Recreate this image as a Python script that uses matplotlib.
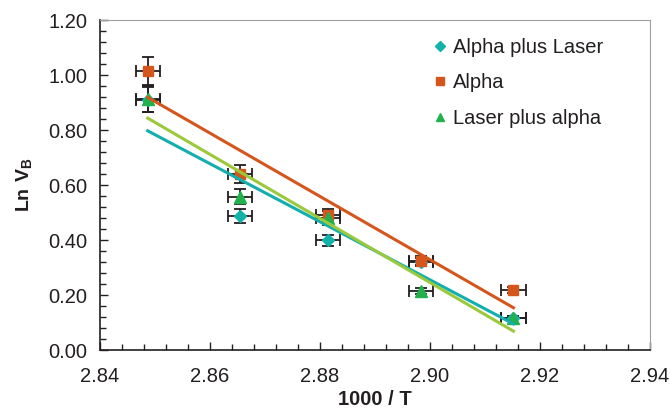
import numpy as np
import matplotlib.pyplot as plt

plt.rcParams['font.family'] = ['Liberation Sans', 'DejaVu Sans']
plt.rcParams['mathtext.fontset'] = 'custom'
plt.rcParams['mathtext.rm'] = 'Liberation Sans'
plt.rcParams['mathtext.bf'] = 'Liberation Sans:bold'

# 1000/T values for each series
x = [2.8487, 2.8655, 2.8815, 2.8984, 2.9152]

y_alpha_laser = [0.91, 0.487, 0.40, 0.32, 0.118]
y_alpha = [1.015, 0.64, 0.49, 0.324, 0.218]
y_laser_alpha = [0.913, 0.558, 0.48, 0.216, 0.118]

names = ['Alpha plus Laser', 'Alpha', 'Laser plus alpha']
marker_cols = ['#12b2aa', '#d5561d', '#22b14c']
line_cols = ['#13aeae', '#d5561d', '#9bc93b']
markers = ['D', 's', '^']
msizes = [6.5, 7.5, 8]

x_err = 0.0022
rel_yerr = 0.05

fig = plt.figure(figsize=(6.7, 4.13), dpi=100)
ax = fig.add_axes([0.149, 0.1525, 0.821, 0.799])

xs = np.array(x)
for ys, name, mc, lc, mk, ms in zip([y_alpha_laser, y_alpha, y_laser_alpha],
                                    names, marker_cols, line_cols, markers, msizes):
    ys = np.array(ys)
    ax.errorbar(xs, ys, xerr=x_err, yerr=ys * rel_yerr, fmt='none',
                ecolor='#231f20', elinewidth=1.3, capsize=4, capthick=1.3, zorder=2)
    ax.plot(xs, ys, linestyle='none', marker=mk, color=mc, markersize=ms,
            label=name, zorder=3)
    k, b = np.polyfit(xs, ys, 1)
    ax.plot(xs[[0, -1]], k * xs[[0, -1]] + b, color=lc, linewidth=2.2, zorder=4)

ax.set_xlim(2.84, 2.94)
ax.set_ylim(0, 1.2)
ax.set_xticks(np.arange(2.84, 2.9401, 0.02))
ax.set_xticks(np.arange(2.84, 2.9401, 0.004), minor=True)
ax.set_yticks(np.arange(0, 1.2001, 0.2))
ax.set_yticks(np.arange(0, 1.2001, 0.04), minor=True)
ax.xaxis.set_major_formatter(plt.FormatStrFormatter('%.2f'))
ax.yaxis.set_major_formatter(plt.FormatStrFormatter('%.2f'))
ax.tick_params(which='both', direction='in', labelsize=14.5, color='#231f20',
               labelcolor='#231f20')
ax.tick_params(axis='x', pad=12)
ax.tick_params(axis='y', pad=9)
ax.tick_params(which='major', length=6, width=1)
ax.tick_params(which='minor', length=4, width=1)

for s in ['top', 'right']:
    ax.spines[s].set_color('#a0a0a0')
for s in ['left', 'bottom']:
    ax.spines[s].set_color('#231f20')
    ax.spines[s].set_linewidth(1.2)

ax.set_xlabel('1000 / T', fontsize=14.5, fontweight='bold', color='#231f20', labelpad=3)
ax.set_ylabel(r'$\mathbf{Ln\ V_B}$', fontsize=14, color='#231f20', labelpad=10)

leg = ax.legend(loc='upper left', bbox_to_anchor=(0.59, 0.975), frameon=False,
                fontsize=14.5, handlelength=0.6, handletextpad=0.3, borderpad=0,
                labelspacing=0.8, markerscale=0.8)
for t in leg.get_texts():
    t.set_color('#231f20')

fig.savefig('out.png', dpi=100)
